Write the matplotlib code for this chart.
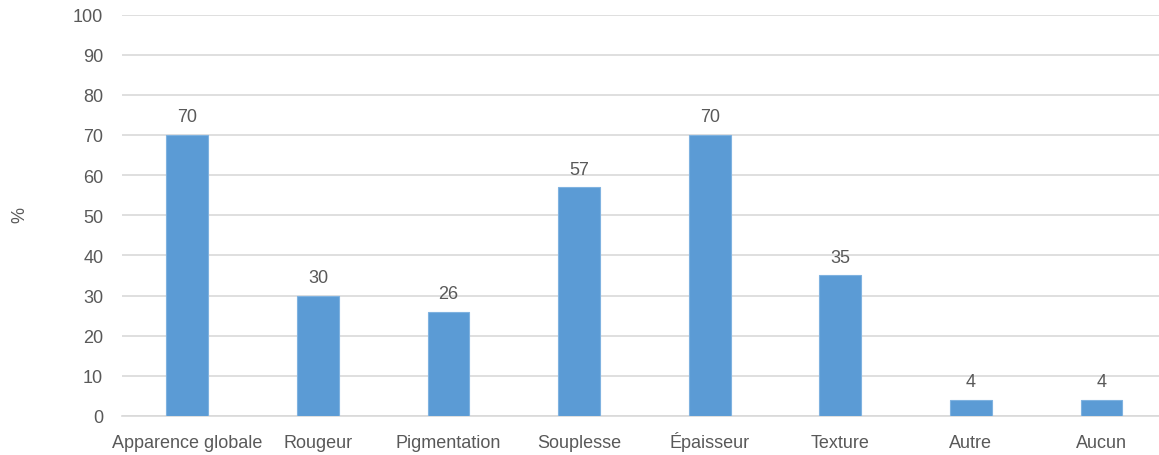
import matplotlib.pyplot as plt
import numpy as np

plt.rcParams['font.family'] = ['Liberation Sans', 'DejaVu Sans']

categories = ['Apparence globale', 'Rougeur', 'Pigmentation', 'Souplesse',
              'Épaisseur', 'Texture', 'Autre', 'Aucun']
values = [70, 30, 26, 57, 70, 35, 4, 4]

text_color = '#595959'
grid_color = '#D9D9D9'

fig = plt.figure(figsize=(11.59, 4.56), dpi=100)
ax = fig.add_axes([122 / 1159, 39 / 456, 1037 / 1159, 401.5 / 456])

x = np.arange(len(categories))
bars = ax.bar(x, values, width=0.32, color='#5B9BD5', edgecolor='#7FB2E0',
              linewidth=0.8, zorder=3)

for b, v in zip(bars, values):
    ax.text(b.get_x() + b.get_width() / 2, v + 2.4, f'{v}', ha='center',
            va='bottom', fontsize=13, color=text_color)

ax.set_xlim(-0.5, 7.44)
ax.set_ylim(0, 100)
ax.set_yticks(np.arange(0, 101, 10))
ax.set_xticks(x)
ax.set_xticklabels(categories)
ax.tick_params(axis='both', length=0, labelsize=13, colors=text_color)
ax.tick_params(axis='y', pad=13.5)
ax.tick_params(axis='x', pad=22)
for lbl in ax.get_xticklabels():
    lbl.set_va('baseline')
ax.yaxis.grid(True, color=grid_color, linewidth=1.2, zorder=0)

for side in ['top', 'right', 'left']:
    ax.spines[side].set_visible(False)
ax.spines['bottom'].set_color(grid_color)
ax.spines['bottom'].set_linewidth(1.2)

fig.text(20 / 1159, 1 - 215 / 456, '%', rotation=90, ha='center', va='center',
         fontsize=13, color=text_color)

plt.savefig('out.png', dpi=100)
